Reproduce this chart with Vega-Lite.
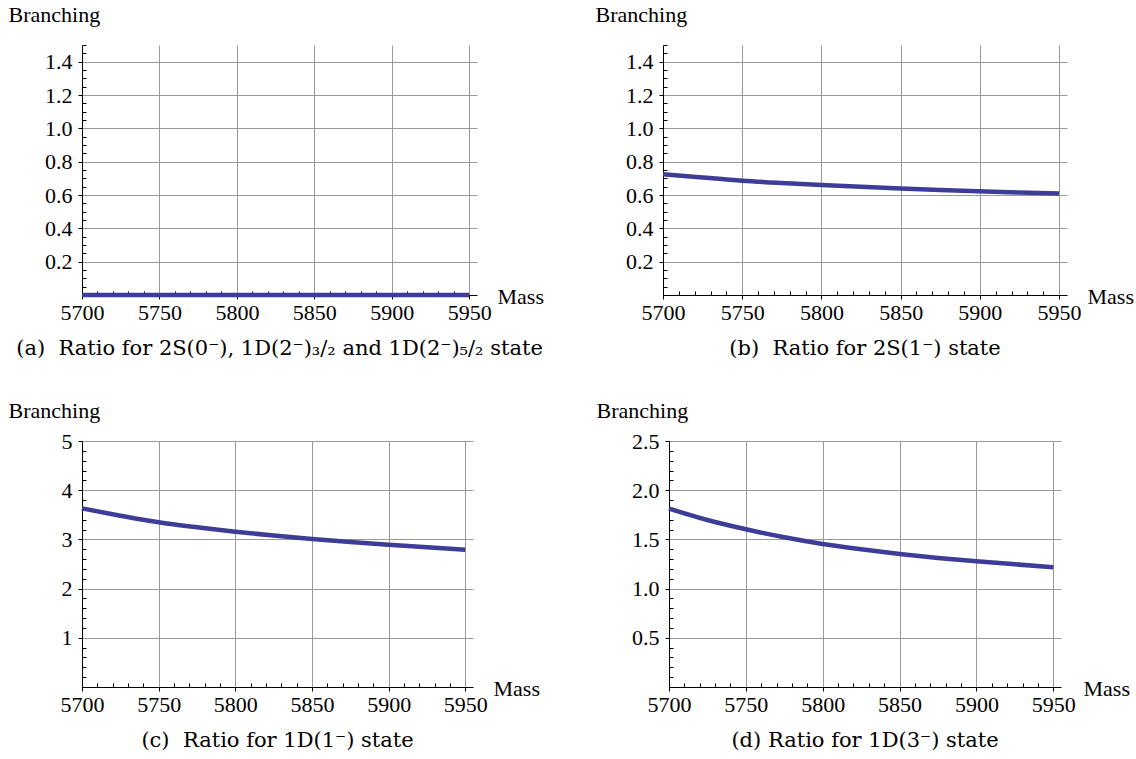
{
  "$schema": "https://vega.github.io/schema/vega-lite/v6.json",
  "padding": {"left": 8, "top": 3, "right": 0, "bottom": 0},
  "background": "white",
  "spacing": 40,
  "datasets": {
    "a": [
      {"mass": 5700, "ratio": 0}, {"mass": 5750, "ratio": 0}, {"mass": 5800, "ratio": 0},
      {"mass": 5850, "ratio": 0}, {"mass": 5900, "ratio": 0}, {"mass": 5950, "ratio": 0}
    ],
    "b": [
      {"mass": 5700, "ratio": 0.725}, {"mass": 5725, "ratio": 0.705}, {"mass": 5750, "ratio": 0.686},
      {"mass": 5775, "ratio": 0.672}, {"mass": 5800, "ratio": 0.660}, {"mass": 5825, "ratio": 0.649},
      {"mass": 5850, "ratio": 0.639}, {"mass": 5875, "ratio": 0.630}, {"mass": 5900, "ratio": 0.622},
      {"mass": 5925, "ratio": 0.615}, {"mass": 5950, "ratio": 0.609}
    ],
    "c": [
      {"mass": 5700, "ratio": 3.63}, {"mass": 5725, "ratio": 3.482}, {"mass": 5750, "ratio": 3.347},
      {"mass": 5775, "ratio": 3.245}, {"mass": 5800, "ratio": 3.156}, {"mass": 5825, "ratio": 3.077},
      {"mass": 5850, "ratio": 3.008}, {"mass": 5875, "ratio": 2.946}, {"mass": 5900, "ratio": 2.891},
      {"mass": 5925, "ratio": 2.840}, {"mass": 5950, "ratio": 2.792}
    ],
    "d": [
      {"mass": 5700, "ratio": 1.813}, {"mass": 5725, "ratio": 1.697}, {"mass": 5750, "ratio": 1.603},
      {"mass": 5775, "ratio": 1.521}, {"mass": 5800, "ratio": 1.453}, {"mass": 5825, "ratio": 1.399},
      {"mass": 5850, "ratio": 1.352}, {"mass": 5875, "ratio": 1.311}, {"mass": 5900, "ratio": 1.277},
      {"mass": 5925, "ratio": 1.247}, {"mass": 5950, "ratio": 1.218}
    ]
  },
  "vconcat": [
    {
      "bounds": "flush",
      "spacing": 186,
      "hconcat": [
        {
          "width": 395, "height": 250,
          "data": {"name": "a"},
          "title": {"text": "(a)\u00a0 Ratio for 2S(0⁻), 1D(2⁻)₃/₂ and 1D(2⁻)₅/₂ state"},
          "mark": {"type": "line", "color": "#3d3d99", "strokeWidth": 4.5, "interpolate": "monotone"},
          "encoding": {
            "x": {"field": "mass", "type": "quantitative",
              "scale": {"domain": [5700, 5955], "nice": false, "zero": false},
              "axis": {"title": "Mass", "titleX": 415, "titleY": 8, "titleAlign": "left", "titleBaseline": "alphabetic", "titleAnchor": "start",
                "values": [5700,5710,5720,5730,5740,5750,5760,5770,5780,5790,5800,5810,5820,5830,5840,5850,5860,5870,5880,5890,5900,5910,5920,5930,5940,5950],
                "format": "d",
                "labelExpr": "datum.value % 50 === 0 ? datum.label : ''",
                "gridOpacity": {"condition": {"test": "datum.value % 50 === 0", "value": 1}, "value": 0},
                "tickSize": {"condition": {"test": "datum.value % 50 === 0", "value": 4}, "value": -4},
                "labelPadding": 3}},
            "y": {"field": "ratio", "type": "quantitative",
              "scale": {"domain": [0, 1.5], "nice": false},
              "axis": {"title": "Branching", "titleAngle": 0, "titleX": -74, "titleY": -24, "titleAlign": "left", "titleBaseline": "alphabetic", "titleAnchor": "start",
                "values": [0,0.05,0.1,0.15,0.2,0.25,0.3,0.35,0.4,0.45,0.5,0.55,0.6,0.65,0.7,0.75,0.8,0.85,0.9,0.95,1,1.05,1.1,1.15,1.2,1.25,1.3,1.35,1.4,1.45,1.5],
                "format": ".1f",
                "labelExpr": "(round(datum.value*100) % 20 === 0 && datum.value > 0.01 && datum.value < 1.45) ? datum.label : ''",
                "gridOpacity": {"condition": {"test": "round(datum.value*100) % 20 === 0 && datum.value > 0.01 && datum.value < 1.45", "value": 1}, "value": 0},
                "tickSize": {"condition": {"test": "round(datum.value*100) % 20 === 0 && datum.value > 0.01 && datum.value < 1.45", "value": 4}, "value": -4},
                "labelPadding": 6}}
          }
        },
        {
          "width": 404, "height": 250,
          "data": {"name": "b"},
          "title": {"text": "(b)\u00a0 Ratio for 2S(1⁻) state"},
          "mark": {"type": "line", "color": "#3d3d99", "strokeWidth": 4.5, "interpolate": "monotone"},
          "encoding": {
            "x": {"field": "mass", "type": "quantitative",
              "scale": {"domain": [5700, 5955], "nice": false, "zero": false},
              "axis": {"title": "Mass", "titleX": 424, "titleY": 8, "titleAlign": "left", "titleBaseline": "alphabetic", "titleAnchor": "start",
                "values": [5700,5710,5720,5730,5740,5750,5760,5770,5780,5790,5800,5810,5820,5830,5840,5850,5860,5870,5880,5890,5900,5910,5920,5930,5940,5950],
                "format": "d",
                "labelExpr": "datum.value % 50 === 0 ? datum.label : ''",
                "gridOpacity": {"condition": {"test": "datum.value % 50 === 0", "value": 1}, "value": 0},
                "tickSize": {"condition": {"test": "datum.value % 50 === 0", "value": 4}, "value": -4},
                "labelPadding": 3}},
            "y": {"field": "ratio", "type": "quantitative",
              "scale": {"domain": [0, 1.5], "nice": false},
              "axis": {"title": "Branching", "titleAngle": 0, "titleX": -68, "titleY": -24, "titleAlign": "left", "titleBaseline": "alphabetic", "titleAnchor": "start",
                "values": [0,0.05,0.1,0.15,0.2,0.25,0.3,0.35,0.4,0.45,0.5,0.55,0.6,0.65,0.7,0.75,0.8,0.85,0.9,0.95,1,1.05,1.1,1.15,1.2,1.25,1.3,1.35,1.4,1.45,1.5],
                "format": ".1f",
                "labelExpr": "(round(datum.value*100) % 20 === 0 && datum.value > 0.01 && datum.value < 1.45) ? datum.label : ''",
                "gridOpacity": {"condition": {"test": "round(datum.value*100) % 20 === 0 && datum.value > 0.01 && datum.value < 1.45", "value": 1}, "value": 0},
                "tickSize": {"condition": {"test": "round(datum.value*100) % 20 === 0 && datum.value > 0.01 && datum.value < 1.45", "value": 4}, "value": -4},
                "labelPadding": 6}}
          }
        }
      ]
    },
    {
      "bounds": "flush",
      "spacing": 196,
      "hconcat": [
        {
          "width": 391, "height": 246,
          "data": {"name": "c"},
          "title": {"text": "(c)\u00a0 Ratio for 1D(1⁻) state"},
          "mark": {"type": "line", "color": "#3d3d99", "strokeWidth": 4.5, "interpolate": "monotone"},
          "encoding": {
            "x": {"field": "mass", "type": "quantitative",
              "scale": {"domain": [5700, 5955], "nice": false, "zero": false},
              "axis": {"title": "Mass", "titleX": 411, "titleY": 8, "titleAlign": "left", "titleBaseline": "alphabetic", "titleAnchor": "start",
                "values": [5700,5710,5720,5730,5740,5750,5760,5770,5780,5790,5800,5810,5820,5830,5840,5850,5860,5870,5880,5890,5900,5910,5920,5930,5940,5950],
                "format": "d",
                "labelExpr": "datum.value % 50 === 0 ? datum.label : ''",
                "gridOpacity": {"condition": {"test": "datum.value % 50 === 0", "value": 1}, "value": 0},
                "tickSize": {"condition": {"test": "datum.value % 50 === 0", "value": 4}, "value": -4},
                "labelPadding": 3}},
            "y": {"field": "ratio", "type": "quantitative",
              "scale": {"domain": [0, 5], "nice": false},
              "axis": {"title": "Branching", "titleAngle": 0, "titleX": -74, "titleY": -24, "titleAlign": "left", "titleBaseline": "alphabetic", "titleAnchor": "start",
                "values": [0,0.2,0.4,0.6,0.8,1,1.2,1.4,1.6,1.8,2,2.2,2.4,2.6,2.8,3,3.2,3.4,3.6,3.8,4,4.2,4.4,4.6,4.8,5],
                "format": ".1f",
                "labelExpr": "(round(datum.value*10) % 10 === 0 && datum.value > 0.01) ? format(datum.value, '.0f') : ''",
                "gridOpacity": {"condition": {"test": "round(datum.value*10) % 10 === 0 && datum.value > 0.01", "value": 1}, "value": 0},
                "tickSize": {"condition": {"test": "round(datum.value*10) % 10 === 0 && datum.value > 0.01", "value": 4}, "value": -4},
                "labelPadding": 6}}
          }
        },
        {
          "width": 392, "height": 246,
          "data": {"name": "d"},
          "title": {"text": "(d) Ratio for 1D(3⁻) state"},
          "mark": {"type": "line", "color": "#3d3d99", "strokeWidth": 4.5, "interpolate": "monotone"},
          "encoding": {
            "x": {"field": "mass", "type": "quantitative",
              "scale": {"domain": [5700, 5955], "nice": false, "zero": false},
              "axis": {"title": "Mass", "titleX": 414, "titleY": 8, "titleAlign": "left", "titleBaseline": "alphabetic", "titleAnchor": "start",
                "values": [5700,5710,5720,5730,5740,5750,5760,5770,5780,5790,5800,5810,5820,5830,5840,5850,5860,5870,5880,5890,5900,5910,5920,5930,5940,5950],
                "format": "d",
                "labelExpr": "datum.value % 50 === 0 ? datum.label : ''",
                "gridOpacity": {"condition": {"test": "datum.value % 50 === 0", "value": 1}, "value": 0},
                "tickSize": {"condition": {"test": "datum.value % 50 === 0", "value": 4}, "value": -4},
                "labelPadding": 3}},
            "y": {"field": "ratio", "type": "quantitative",
              "scale": {"domain": [0, 2.5], "nice": false},
              "axis": {"title": "Branching", "titleAngle": 0, "titleX": -73, "titleY": -24, "titleAlign": "left", "titleBaseline": "alphabetic", "titleAnchor": "start",
                "values": [0,0.1,0.2,0.3,0.4,0.5,0.6,0.7,0.8,0.9,1,1.1,1.2,1.3,1.4,1.5,1.6,1.7,1.8,1.9,2,2.1,2.2,2.3,2.4,2.5],
                "format": ".1f",
                "labelExpr": "(round(datum.value*10) % 5 === 0 && datum.value > 0.01) ? datum.label : ''",
                "gridOpacity": {"condition": {"test": "round(datum.value*10) % 5 === 0 && datum.value > 0.01", "value": 1}, "value": 0},
                "tickSize": {"condition": {"test": "round(datum.value*10) % 5 === 0 && datum.value > 0.01", "value": 4}, "value": -4},
                "labelPadding": 6}}
          }
        }
      ]
    }
  ],
  "config": {
    "view": {"stroke": null},
    "axis": {
      "labelFont": "Liberation Serif", "labelFontSize": 22, "labelColor": "black",
      "titleFont": "Liberation Serif", "titleFontSize": 22, "titleFontWeight": "normal", "titleColor": "black",
      "domainColor": "black", "domainWidth": 1, "tickColor": "black", "tickWidth": 1,
      "grid": true, "gridColor": "#999999", "gridWidth": 1,
      "labelOverlap": false, "labelFlush": false, "labelBound": false
    },
    "title": {"font": "DejaVu Serif", "fontSize": 21, "fontWeight": "normal", "color": "black", "orient": "bottom", "anchor": "middle", "frame": "group", "offset": 15}
  }
}
